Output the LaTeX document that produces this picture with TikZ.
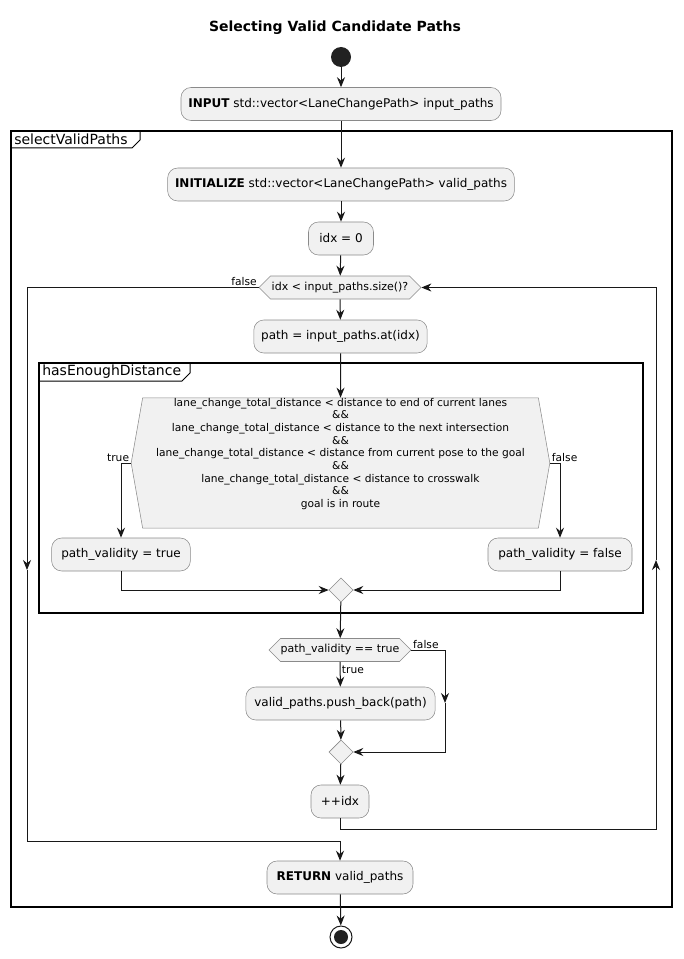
\documentclass[tikz,border=0pt]{standalone}
\usepackage{fontspec}
\setmainfont{DejaVu Sans}
\usepackage{xcolor}
\definecolor{cFill}{HTML}{F1F1F1}
\definecolor{cLine}{HTML}{181818}
\definecolor{cBorder}{HTML}{8A8A8A}
\definecolor{cDot}{HTML}{222222}
\usepackage{tikz}
\usetikzlibrary{positioning,arrows.meta,shapes.geometric,shapes.symbols}
\tikzset{
  node-act/.style={draw=cBorder,fill=cFill,rounded corners=7.5pt,
    minimum height=24.75pt,inner xsep=0pt,align=center,
    font=\fontsize{9}{11}\selectfont},
  node-cond/.style={signal,signal to=west and east,draw=cBorder,fill=cFill,
    minimum height=17.25pt,inner xsep=0pt,align=center,
    font=\fontsize{8.25}{10}\selectfont},
  node-merge/.style={diamond,draw=cBorder,fill=cFill,inner sep=0pt,
    minimum width=18pt,minimum height=18pt},
  node-guard/.style={font=\fontsize{8}{9}\selectfont,inner sep=1pt},
  frame-box/.style={draw=black,line width=1.1pt},
  frame-tab/.style={draw=black,line width=0.75pt},
  frame-label/.style={font=\fontsize{10.5}{12}\selectfont,inner sep=0pt},
  flow/.style={-{Stealth[length=7.5pt,width=6pt]},draw=cLine,line width=0.75pt},
  link/.style={draw=cLine,line width=0.75pt},
}

\begin{document}
\begin{tikzpicture}[x=0.75pt,y=-0.75pt]
  \useasboundingbox (0,0) rectangle (683,959);
  \node[font=\bfseries\fontsize{10.5}{12}\selectfont] (title) at (335,28) {Selecting Valid Candidate Paths};

  % frames
  \draw[frame-box] (11,131) rectangle (672,907);
  \node[frame-label,anchor=west] (f-select) at (14,139.5) {selectValidPaths};
  \draw[frame-tab] (11,148) -- (132,148) -- (140,140) -- (140,131);
  \draw[frame-box] (39,363) rectangle (643,613);
  \node[frame-label,anchor=west] (f-dist) at (42,371.5) {hasEnoughDistance};
  \draw[frame-tab] (39,381) -- (182,381) -- (190,373) -- (190,363);

  % nodes
  \node[circle,fill=cDot,minimum size=15pt,inner sep=0pt] (start) at (341,57) {};
  \node[node-act,minimum width=240pt] (input) at (341,104) {\textbf{INPUT} std::vector<LaneChangePath> input\_paths};
  \node[node-act,minimum width=260pt] (init) at (341,184.5) {\textbf{INITIALIZE} std::vector<LaneChangePath> valid\_paths};
  \node[node-act,minimum width=48.75pt] (idx0) at (341,238.5) {idx = 0};
  \node[node-cond,minimum width=121.5pt] (loop) at (340,287.5) {idx < input\_paths.size()?};
  \node[node-act,minimum width=130pt] (path) at (340.5,336.5) {path = input\_paths.at(idx)};
  \node[node-cond,minimum width=314pt,minimum height=92pt,inner ysep=0pt,signal pointer angle=160,
    font=\fontsize{8}{9.5}\selectfont] (dist) at (340.5,463)
    {lane\_change\_total\_distance < distance to end of current lanes\\\&\&\\
     lane\_change\_total\_distance < distance to the next intersection\\\&\&\\
     lane\_change\_total\_distance < distance from current pose to the goal\\\&\&\\
     lane\_change\_total\_distance < distance to crosswalk\\\&\&\\
     goal is in route\\[6pt]};
  \node[node-act,minimum width=104pt] (valid-t) at (121,554.5) {path\_validity = true};
  \node[node-act,minimum width=108pt] (valid-f) at (560,554.5) {path\_validity = false};
  \node[node-merge] (merge-a) at (341,590) {};
  \node[node-cond,minimum width=106.5pt] (check) at (340,650) {path\_validity == true};
  \node[node-act,minimum width=142pt] (push) at (340.5,703.5) {valid\_paths.push\_back(path)};
  \node[node-merge] (merge-b) at (341,752) {};
  \node[node-act,minimum width=43.5pt] (incr) at (340,801.5) {++idx};
  \node[node-act,minimum width=109.5pt] (rtn) at (340,877.5) {\textbf{RETURN} valid\_paths};
  \node[circle,draw=cLine,fill=white,line width=0.75pt,minimum size=16.5pt,inner sep=0pt] (stop) at (341,937) {};
  \node[circle,fill=cDot,minimum size=10.5pt,inner sep=0pt] (stop-dot) at (stop) {};

  \coordinate (loop-l) at (27,570);
  \coordinate (loop-lb) at (27,841);
  \coordinate (loop-r) at (656,560);
  \coordinate (loop-rb) at (656,829);
  \coordinate (skip) at (445,703);

  % connectors
  \draw[flow] (start) -- (input);
  \draw[flow] (input) -- (init);
  \draw[flow] (init) -- (idx0);
  \draw[flow] (idx0) -- (loop);
  \draw[flow] (loop) -- (path);
  \draw[flow] (path) -- (dist);
  \draw[flow] (dist.west) -| node[node-guard,pos=0,anchor=south east]{true} (valid-t.north);
  \draw[flow] (dist.east) -| node[node-guard,pos=0,anchor=south west]{false} (valid-f.north);
  \draw[flow] (valid-t.south) |- (merge-a.west);
  \draw[flow] (valid-f.south) |- (merge-a.east);
  \draw[flow] (merge-a) -- (check);
  \draw[flow] (check) -- node[node-guard,pos=0.1,anchor=north west]{true} (push);
  \draw[flow] (check.east) -| node[node-guard,pos=0,anchor=south west]{false} (skip);
  \draw[flow] (skip) |- (merge-b.east);
  \draw[flow] (push) -- (merge-b);
  \draw[flow] (merge-b) -- (incr);
  \draw[flow] (incr.south) |- (loop-rb) -- (loop-r);
  \draw[flow] (loop-r) |- (loop.east);
  \draw[flow] (loop.west) -| node[node-guard,pos=0,anchor=south east]{false} (loop-l);
  \draw[flow] (loop-l) -- (loop-lb) -| (rtn.north);
  \draw[flow] (rtn) -- (stop);
\end{tikzpicture}
\end{document}
